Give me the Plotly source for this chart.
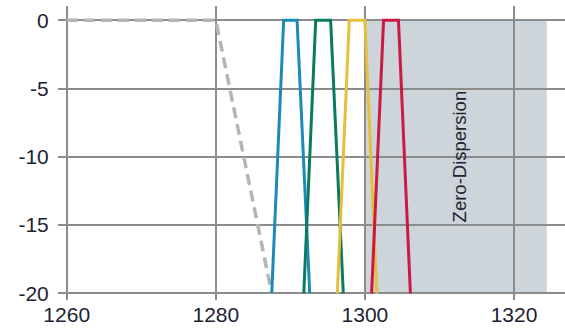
import plotly.graph_objects as go

# Data
ref_x = [1260, 1280, 1287.5]
ref_y = [0, 0, -20]

ch_y = [-20, 0, 0, -20]
blue_x = [1287.5, 1289.1, 1290.9, 1292.6]
green_x = [1291.8, 1293.4, 1295.4, 1297.1]
yellow_x = [1296.3, 1297.9, 1300.0, 1301.6]
red_x = [1300.9, 1302.5, 1304.5, 1306.1]

zd_x0, zd_x1 = 1300, 1324.4
zd_y0, zd_y1 = -20, 0
zd_label = "Zero-Dispersion"

x_ticks = [1260, 1280, 1300, 1320]
y_ticks = [0, -5, -10, -15, -20]

fig = go.Figure()

fig.add_shape(type="rect", xref="x", yref="y", x0=zd_x0, x1=zd_x1, y0=zd_y0, y1=zd_y1,
              fillcolor="#cdd5da", line=dict(width=0), layer="below")

fig.add_trace(go.Scatter(x=ref_x, y=ref_y, mode="lines",
                         line=dict(color="#b5b5b5", width=3.5, dash="11px,6px")))
for xs, col in [(blue_x, "#1b8ab9"), (green_x, "#0b7a60"),
                (yellow_x, "#e6bf3d"), (red_x, "#c91a45")]:
    fig.add_trace(go.Scatter(x=xs, y=ch_y, mode="lines",
                             line=dict(color=col, width=3)))

fig.add_annotation(x=1312.7, y=-10, text=zd_label, textangle=-90, showarrow=False,
                   font=dict(family="Liberation Sans, Arial", size=18.5, color="#222233"))

grid = "#8c8c8c"
fig.update_layout(
    width=565, height=333,
    margin=dict(l=58, r=0, t=6, b=33),
    paper_bgcolor="white", plot_bgcolor="white",
    showlegend=False,
    font=dict(family="Liberation Sans, Arial", size=21, color="#222233"),
    xaxis=dict(range=[1258.83, 1326.84], tickvals=x_ticks, ticktext=[str(v) for v in x_ticks],
               showgrid=True, gridcolor=grid, gridwidth=1.5, zeroline=False, automargin=False,
               showline=False, ticks="", ticklen=0),
    yaxis=dict(range=[-20.49, 1.05], tickvals=y_ticks, ticktext=[str(v) for v in y_ticks],
               showgrid=True, gridcolor=grid, gridwidth=1.5, zeroline=False, automargin=False,
               showline=False, ticks="outside", ticklen=4, tickcolor="rgba(0,0,0,0)"),
)

fig.write_html("out.html", config={"displayModeBar": False},
               post_script="document.body.style.margin='0';document.body.style.overflow='hidden';")
